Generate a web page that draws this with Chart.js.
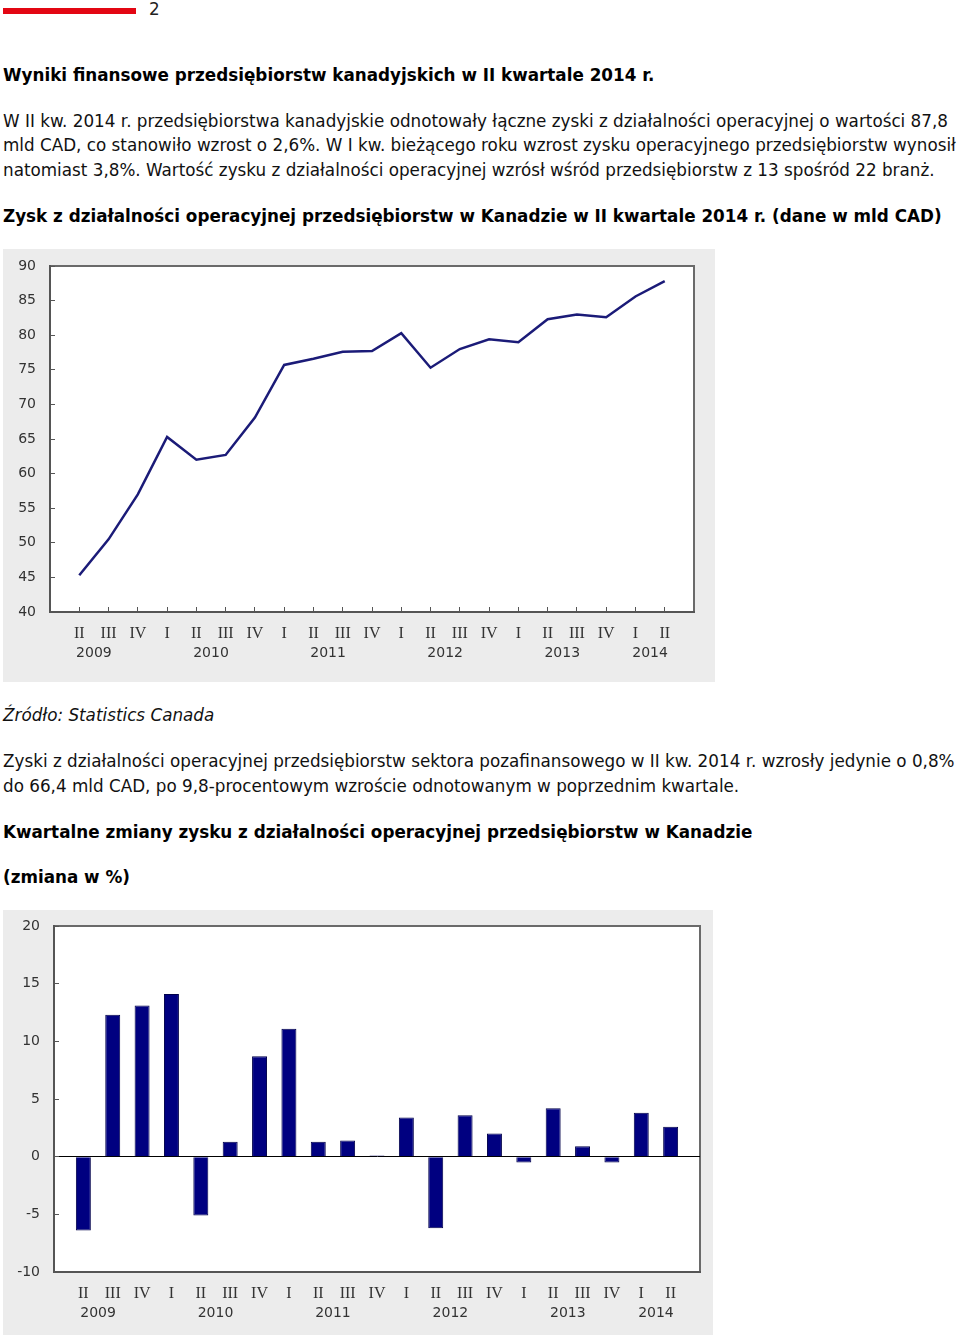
<!DOCTYPE html>
<html lang="pl">
<head>
<meta charset="utf-8">
<title>Zysk z działalności operacyjnej – Kanada</title>
<script src="https://cdn.jsdelivr.net/npm/chart.js@4/dist/chart.umd.min.js"></script>
<style>
  body { margin: 0; background: #fff; font-family: "DejaVu Sans", sans-serif; color: #111; }
  .t { position: absolute; left: 3px; white-space: nowrap; font-size: 16.8px; line-height: 24px; }
  .b { font-weight: bold; color: #000; }
  .i { font-style: italic; }
  .box { position: absolute; left: 3px; background: #ececec; }
  .box canvas { display: block; }
</style>
</head>
<body>
<div style="position:absolute;left:3px;top:8px;width:133px;height:6px;background:#e30613"></div>
<div class="t" style="left:149px;top:-3px;color:#222">2</div>

<div class="t b" style="top:63px">Wyniki finansowe przedsiębiorstw kanadyjskich w II kwartale 2014 r.</div>
<div class="t" style="top:109px">W II kw. 2014 r. przedsiębiorstwa kanadyjskie odnotowały łączne zyski z działalności operacyjnej o wartości 87,8</div>
<div class="t" style="top:133px">mld CAD, co stanowiło wzrost o 2,6%. W I kw. bieżącego roku wzrost zysku operacyjnego przedsiębiorstw wynosił</div>
<div class="t" style="top:158px">natomiast 3,8%. Wartość zysku z działalności operacyjnej wzrósł wśród przedsiębiorstw z 13 spośród 22 branż.</div>
<div class="t b" style="top:204px">Zysk z działalności operacyjnej przedsiębiorstw w Kanadzie w II kwartale 2014 r. (dane w mld CAD)</div>

<div class="box" style="top:249px;width:712px;height:433px"><canvas id="profitChart" width="712" height="433"></canvas></div>

<div class="t i" style="top:703px">Źródło: Statistics Canada</div>
<div class="t" style="top:749px">Zyski z działalności operacyjnej przedsiębiorstw sektora pozafinansowego w II kw. 2014 r. wzrosły jedynie o 0,8%</div>
<div class="t" style="top:774px">do 66,4 mld CAD, po 9,8-procentowym wzroście odnotowanym w poprzednim kwartale.</div>
<div class="t b" style="top:820px">Kwartalne zmiany zysku z działalności operacyjnej przedsiębiorstw w Kanadzie</div>
<div class="t b" style="top:865px">(zmiana w %)</div>

<div class="box" style="top:910px;width:710px;height:425px"><canvas id="changeChart" width="710" height="425"></canvas></div>

<script>
// kwartały od II 2009 do II 2014
const quarters = ['II', 'III', 'IV', 'I', 'II', 'III', 'IV', 'I', 'II', 'III', 'IV',
  'I', 'II', 'III', 'IV', 'I', 'II', 'III', 'IV', 'I', 'II'];
const quarterYears = [2009, 2009, 2009, 2010, 2010, 2010, 2010, 2011, 2011, 2011, 2011,
  2012, 2012, 2012, 2012, 2013, 2013, 2013, 2013, 2014, 2014];
const yearLabels = ['2009', '2010', '2011', '2012', '2013', '2014'];

// zysk operacyjny, mld CAD
const profit = [45.3, 50.5, 57.0, 65.3, 62.0, 62.7, 68.1, 75.7, 76.6, 77.6, 77.7,
  80.3, 75.3, 78.0, 79.4, 79.0, 82.3, 83.0, 82.6, 85.6, 87.8];
// zmiana kwartalna, %
const change = [-6.4, 12.3, 13.1, 14.1, -5.1, 1.3, 8.7, 11.1, 1.3, 1.4, 0.1,
  3.4, -6.2, 3.6, 2.0, -0.5, 4.2, 0.9, -0.5, 3.8, 2.6];

// podpis roku pod srodkiem kwartalow II i III (albo pod srodkiem tego co jest)
const yearTicks = yearLabels.map(y => {
  const idx = [];
  quarterYears.forEach((qy, i) => { if (String(qy) === y) idx.push(i + 1); });
  const ii = idx.find(i => quarters[i - 1] === 'II');
  const iii = idx.find(i => quarters[i - 1] === 'III');
  if (ii && iii) return (ii + iii) / 2;
  return (idx[0] + idx[idx.length - 1]) / 2;
});

const axisGrey = '#555';

const frame = {
  id: 'frame',
  beforeDraw(chart) {
    const { ctx, chartArea: a } = chart;
    ctx.save();
    ctx.fillStyle = '#fff';
    ctx.fillRect(a.left, a.top, a.width, a.height);
    ctx.strokeStyle = '#6a6a6a';
    ctx.lineWidth = 2;
    ctx.strokeRect(a.left, a.top, a.width, a.height);
    ctx.restore();
  }
};

function xScales(withTicks) {
  return {
    x: {
      type: 'linear', min: 0, max: 22, offset: false, weight: 0,
      afterBuildTicks: s => { s.ticks = quarters.map((q, i) => ({ value: i + 1 })); },
      afterFit: s => { s.height = 28; },
      grid: { drawOnChartArea: false, drawTicks: withTicks, tickLength: -5, tickColor: axisGrey, offset: false },
      border: { color: axisGrey, width: 2 },
      ticks: {
        autoSkip: false, maxRotation: 0, padding: withTicks ? 17 : 12, color: '#333',
        font: { family: 'Liberation Serif', size: 16 },
        callback: v => quarters[v - 1]
      }
    },
    years: {
      type: 'linear', position: 'bottom', min: 0, max: 22, offset: false, weight: 1,
      afterBuildTicks: s => { s.ticks = yearTicks.map(v => ({ value: v })); },
      afterFit: s => { s.height = 26; },
      grid: { display: false, drawTicks: false },
      border: { display: false },
      ticks: {
        autoSkip: false, maxRotation: 0, padding: 5, color: '#333',
        font: { family: 'DejaVu Sans', size: 14 },
        callback: (v, i) => yearLabels[i]
      }
    }
  };
}

function yScale(min, max, width, showZero) {
  return {
    min: min, max: max,
    afterFit: s => { s.width = width; s.paddingTop = 0; s.paddingBottom = 0; },
    grid: {
      drawOnChartArea: showZero, tickLength: -5, tickColor: axisGrey,
      color: c => (c.tick && c.tick.value === 0 ? '#000' : 'rgba(0,0,0,0)')
    },
    border: { color: axisGrey, width: 2 },
    ticks: { stepSize: 5, padding: 19, color: '#333', font: { family: 'DejaVu Sans', size: 14 } }
  };
}

const common = {
  responsive: false,
  animation: false,
  devicePixelRatio: 1,
  plugins: { legend: { display: false }, tooltip: { enabled: false } }
};

new Chart(document.getElementById('profitChart'), {
  type: 'line',
  data: {
    datasets: [{
      data: profit.map((v, i) => ({ x: i + 1, y: v })),
      borderColor: '#1b1b78',
      borderWidth: 2.5,
      pointRadius: 0,
      tension: 0,
      fill: false
    }]
  },
  options: {
    ...common,
    layout: { padding: { top: 17, right: 21, bottom: 16, left: 0 } },
    scales: { ...xScales(true), y: yScale(40, 90, 47, false) }
  },
  plugins: [frame]
});

new Chart(document.getElementById('changeChart'), {
  type: 'bar',
  data: {
    datasets: [{
      data: change.map((v, i) => ({ x: i + 1, y: v })),
      backgroundColor: '#000080',
      borderColor: '#00004a',
      borderWidth: 1,
      barPercentage: 0.51,
      categoryPercentage: 1
    }]
  },
  options: {
    ...common,
    layout: { padding: { top: 16, right: 13, bottom: 9, left: 0 } },
    scales: { ...xScales(false), y: yScale(-10, 20, 51, true) }
  },
  plugins: [frame]
});
</script>
</body>
</html>
